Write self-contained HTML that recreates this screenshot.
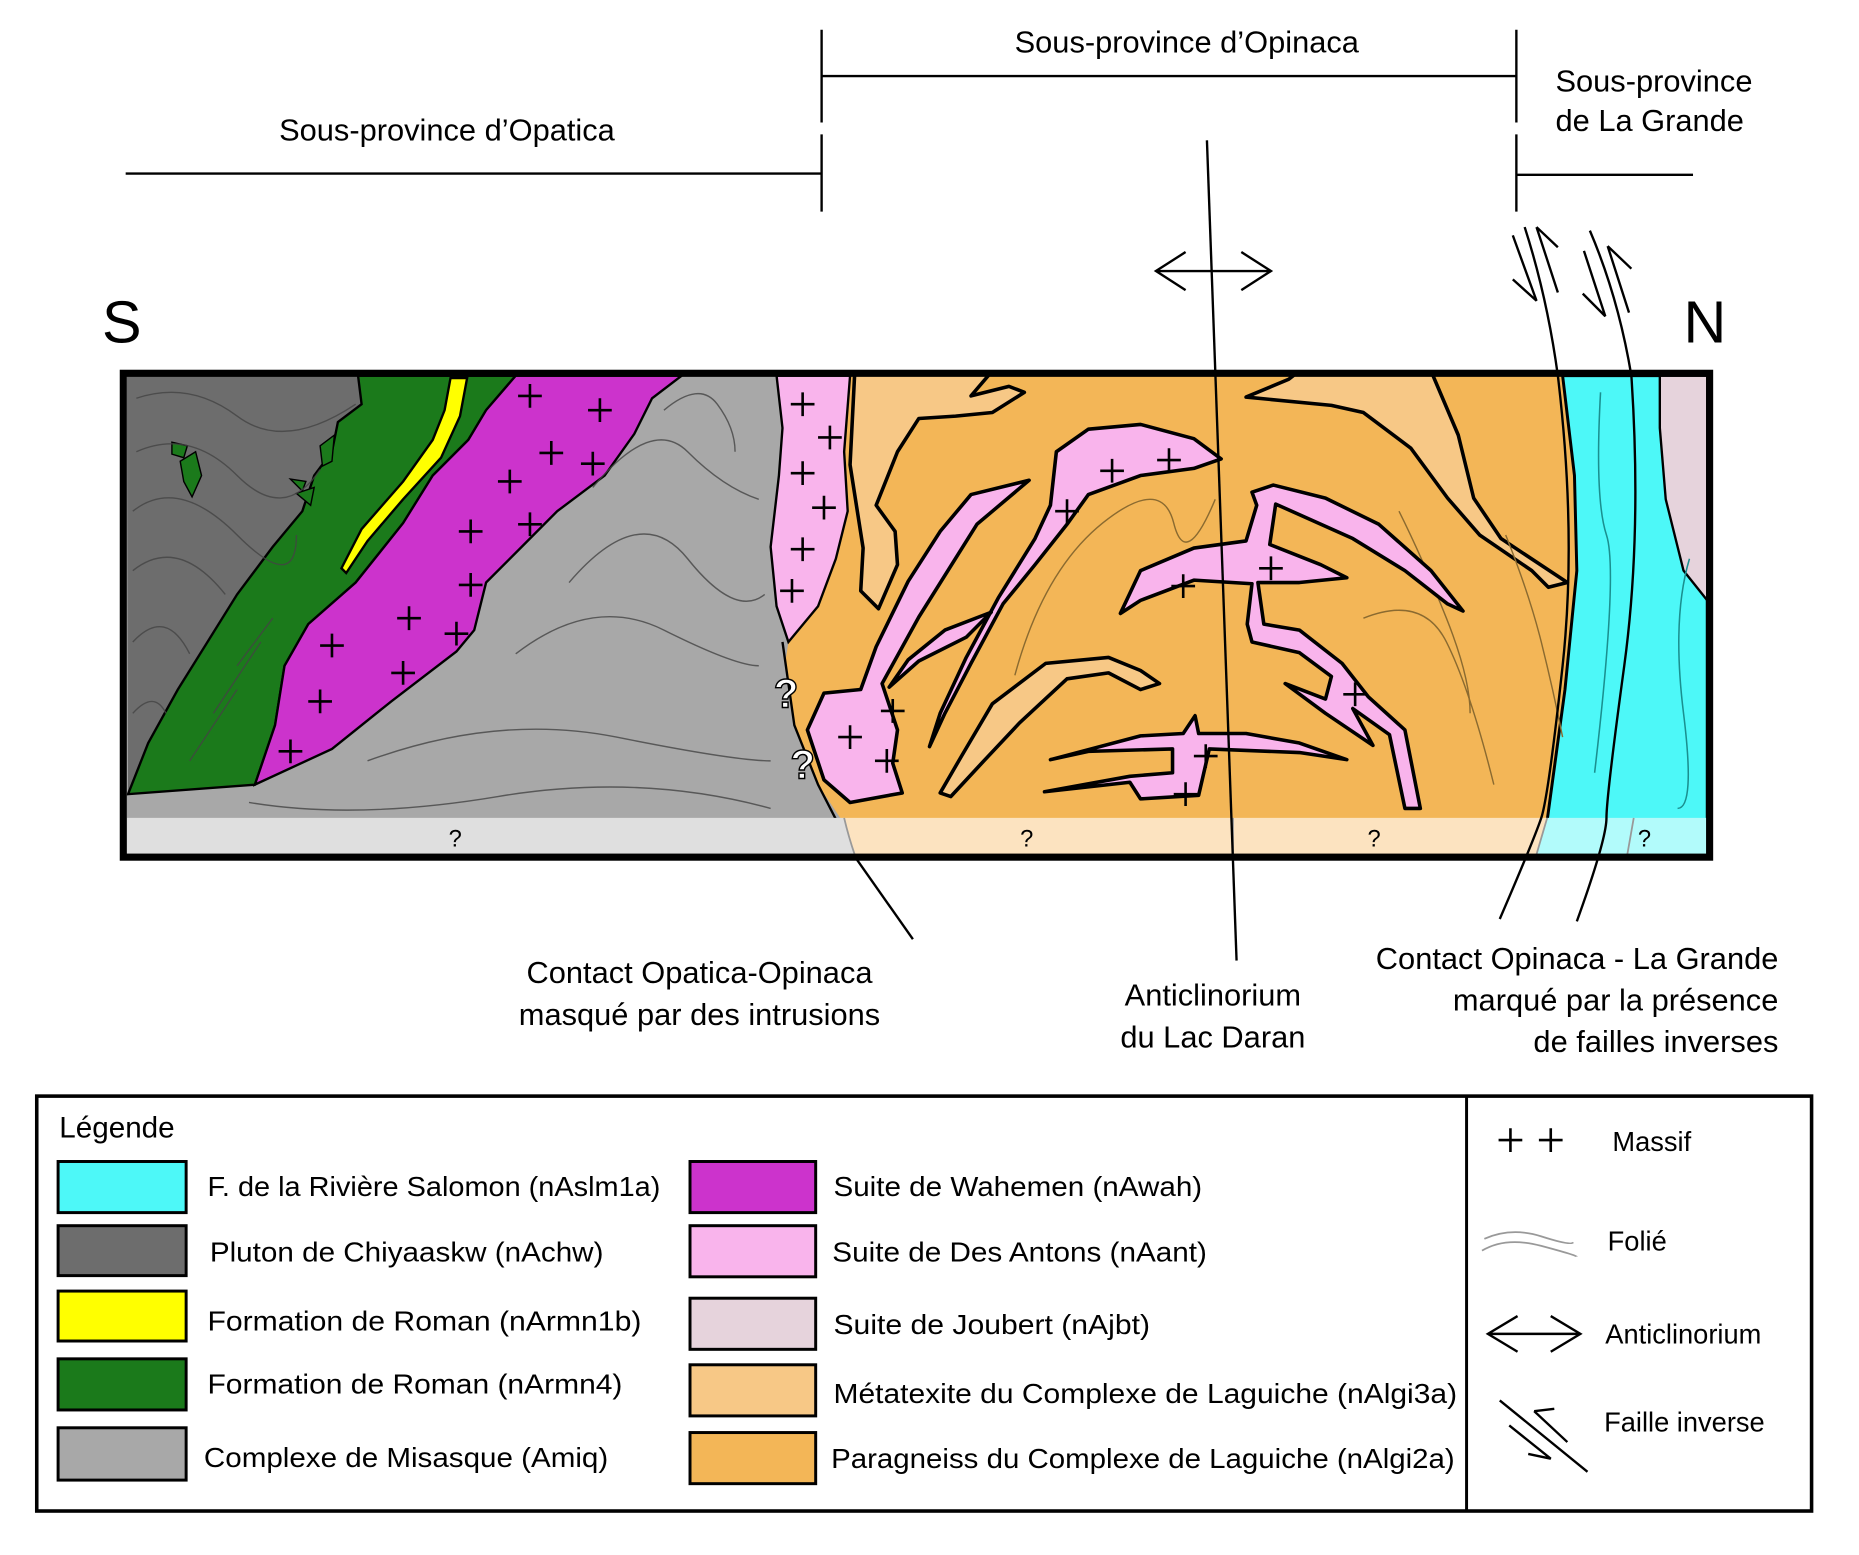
<!DOCTYPE html>
<html><head><meta charset="utf-8"><style>html,body{margin:0;padding:0;background:#fff}svg{display:block}</style></head>
<body>
<svg width="1859" height="1555" viewBox="0 0 1568 1308" preserveAspectRatio="none" xmlns="http://www.w3.org/2000/svg" font-family="Liberation Sans, sans-serif">
<defs>
<g id="p"><path d="M-10 0H10M0 -10V10" stroke="#000" stroke-width="2.2"/></g>
<clipPath id="box"><rect x="107" y="316" width="1333" height="403"/></clipPath>
</defs>
<!-- top brackets -->
<g stroke="#000" stroke-width="2" fill="none">
<path d="M693 25V103M693 113V178M1279 25V103M1279 113V178M693 64H1279M106 146H693M1279 147H1428"/>
<path d="M975 228H1072M1000 212L975 228L1000 244M1047 212L1072 228L1047 244"/>
<path d="M1286 191Q1305 250 1314 316M1341 194Q1365 250 1376 316"/>
<path d="M1276 198L1296 253L1276 235M1296 191L1314 246M1296 191L1314 208"/>
<path d="M1336 211L1354 266L1335 247M1356 207L1374 263M1356 207L1376 226"/>
</g>
<g font-size="26" fill="#000">
<text x="1001" y="44" text-anchor="middle">Sous-province d’Opinaca</text>
<text x="377" y="118" text-anchor="middle">Sous-province d’Opatica</text>
<text x="1312" y="77">Sous-province</text>
<text x="1312" y="110">de La Grande</text>
</g>
<text x="86" y="288" font-size="50">S</text>
<text x="1420" y="288" font-size="50">N</text>
<!-- map -->
<g clip-path="url(#box)">
<rect x="107" y="316" width="1333" height="403" fill="#a8a8a8"/>
<path d="M717 316H1318L1328 400L1330 480L1320 580L1305 690H710L690 660L670 610L662 560L665 540L690 510L705 470L715 430L712 380Z" fill="#f3b657"/>
<path d="M1318 316H1440V690H1305L1320 580L1330 480L1328 400Z" fill="#4df8f8" stroke="#000" stroke-width="2.5"/>
<path d="M1400 316H1440V505L1420 480L1405 420L1400 360Z" fill="#e6d3dc" stroke="#000" stroke-width="2"/>
<path d="M107 316H302L305 340L285 355L280 380L265 400L255 430L230 460L200 500L175 540L150 580L125 625L108 668Z" fill="#6d6d6d"/>
<path d="M302 316H435L410 345L395 370L365 400L340 440L300 490L260 525L240 560L232 610L215 660L108 668L125 625L150 580L175 540L200 500L230 460L255 430L265 400L280 380L285 355L305 340Z" fill="#1b7a1b" stroke="#000" stroke-width="2"/>
<path d="M380 318H394L388 350L372 385L340 420L310 455L292 482L288 478L305 445L340 405L365 370L375 345Z" fill="#ffff00" stroke="#000" stroke-width="2"/>
<path d="M435 316H575L550 335L535 365L510 400L470 430L440 460L410 490L400 530L385 548L330 590L280 630L215 660L232 610L240 560L260 525L300 490L340 440L365 400L395 370L410 345Z" fill="#cc33cc" stroke="#000" stroke-width="2"/>
<path d="M655 316H717L712 380L715 430L705 470L690 510L665 540L655 510L650 460L657 400L660 360Z" fill="#f9b4ec" stroke="#000" stroke-width="2"/>
<path d="M660 540L670 610L690 660L722 722" stroke="#000" stroke-width="2" fill="none"/>
<g fill="#1b7a1b" stroke="#000" stroke-width="1.2">
<path d="M145 372L158 375L155 385L145 382Z"/><path d="M152 388L165 380L170 400L162 418L155 405Z"/>
<path d="M270 375L282 366L280 388L272 392Z"/><path d="M245 403L258 405L255 413Z"/><path d="M250 415L265 410L262 425Z"/>
</g>
<g fill="#f7c886" stroke="#000" stroke-width="3" stroke-linejoin="round">
<path d="M721 312L717 391L728 461L726 497L741 512L757 475L755 447L739 425L757 380L775 352L806 350L837 347L864 330L851 325L819 333L837 312Z"/>
<path d="M1051 334L1087 319L1096 312H1207L1230 366L1243 419L1266 453L1322 490L1306 494L1292 480L1248 450L1221 419L1190 377L1150 347L1123 341Z"/>
<path d="M793 667L811 636L837 592L882 558L935 553L962 564L978 575L962 580L935 566L900 571L860 608L828 642L802 670Z"/>
</g>
<g fill="none" stroke="#444" stroke-width="1.2" opacity="0.8">
<path d="M115 335Q160 320 200 350T300 340M115 380Q160 360 200 400T270 395M112 430Q150 400 200 450T250 450M112 480Q150 450 190 500M112 540Q140 510 160 550M112 600Q130 580 140 600"/>
<path d="M560 345Q590 320 605 340T620 380M500 410Q550 350 580 380T640 420M480 490Q540 420 580 470T645 500M435 550Q500 500 560 530T640 560M310 640Q420 600 520 620T650 640M210 675Q300 690 420 670T650 680"/>
<path d="M200 560L230 520M180 600L220 540M160 640L200 580"/>
</g>
<g fill="none" stroke="#8a6a30" stroke-width="1.2">
<path d="M856 568Q880 480 930 440T990 440T1025 420"/><path d="M1180 430Q1200 470 1220 520T1240 600"/><path d="M1150 520Q1200 500 1220 540T1260 660"/><path d="M1270 450Q1290 500 1300 540T1318 620"/>
</g>
<path d="M1350 330Q1345 420 1355 450T1345 650M1425 470Q1410 520 1420 600T1415 680" stroke="#1a8f8f" stroke-width="1.3" fill="none"/>
<g fill="#f9b4ec" stroke="#000" stroke-width="3" stroke-linejoin="round">
<path d="M891 380L918 361L962 357L1007 369L1030 386L1007 394L962 400L918 416L900 441L873 475L846 508L819 558L797 600L784 628L793 600L815 553L842 503L873 453L886 425Z"/>
<path d="M868 404L819 416L793 447L766 489L739 544L726 580L695 583L681 614L695 656L717 675L761 667L753 642L757 614L744 575L775 519L824 441Z"/>
<path d="M836 515L797 530L766 555L750 578L775 556L815 536Z"/>
<path d="M945 516L962 480L1007 461L1051 455L1060 425L1056 414L1074 408L1118 419L1163 441L1207 480L1234 514L1221 508L1185 480L1141 453L1076 424L1071 458L1114 475L1136 486L1096 490L1061 490L1066 525L1096 530L1132 558L1154 586L1185 614L1198 680L1185 680L1172 618L1141 596L1158 627L1118 600L1084 575L1118 588L1123 569L1096 549L1056 540L1052 525L1056 491L1007 488L962 505Z"/>
<path d="M886 639L962 619L998 617L1008 602L1011 617L1051 617L1096 625L1136 639L1096 633L1020 630L1011 669L962 672L953 658L881 666L953 653L989 650L989 630L918 632Z"/>
</g>
<path d="M107 688H712L722 722H107Z" fill="#dfdfdf"/>
<path d="M712 688H1305L1295 722H722Z" fill="#fce3c0"/>
<path d="M1305 688H1440V722H1295Z" fill="#b2fbfb"/>
<path d="M712 688Q716 705 722 722M1040 688V722M1305 688L1295 722M1378 688L1372 722" stroke="#999" stroke-width="1.5" fill="none"/>
<g font-size="20" text-anchor="middle" fill="#000"><text x="384" y="712">?</text><text x="866" y="712">?</text><text x="1159" y="712">?</text><text x="1387" y="712">?</text></g>
<g>
<use href="#p" x="447" y="333"/><use href="#p" x="506" y="345"/><use href="#p" x="465" y="381"/><use href="#p" x="500" y="390"/><use href="#p" x="430" y="405"/><use href="#p" x="397" y="447"/><use href="#p" x="447" y="441"/><use href="#p" x="397" y="492"/><use href="#p" x="345" y="520"/><use href="#p" x="385" y="533"/><use href="#p" x="280" y="543"/><use href="#p" x="340" y="566"/><use href="#p" x="270" y="590"/><use href="#p" x="245" y="632"/>
<use href="#p" x="677" y="340"/><use href="#p" x="700" y="368"/><use href="#p" x="677" y="398"/><use href="#p" x="695" y="427"/><use href="#p" x="677" y="462"/><use href="#p" x="668" y="497"/>
<use href="#p" x="938" y="396"/><use href="#p" x="986" y="387"/><use href="#p" x="900" y="430"/><use href="#p" x="998" y="493"/><use href="#p" x="1072" y="478"/><use href="#p" x="753" y="598"/><use href="#p" x="717" y="620"/><use href="#p" x="748" y="640"/><use href="#p" x="1143" y="584"/><use href="#p" x="1017" y="636"/><use href="#p" x="1000" y="668"/>
</g>
<g font-size="34" font-weight="bold" fill="#fff" stroke="#000" stroke-width="1.2" text-anchor="middle"><text x="663" y="595">?</text><text x="677" y="655">?</text></g>
</g>
<rect x="104" y="314" width="1338" height="407" fill="none" stroke="#000" stroke-width="6"/>
<path d="M1018 118L1043 808" stroke="#000" stroke-width="2"/>
<path d="M722 722L770 790" stroke="#000" stroke-width="2"/>
<g stroke="#000" stroke-width="2" fill="none">
<path d="M1314 316Q1330 450 1318 560T1300 688T1265 773"/>
<path d="M1376 316Q1385 450 1370 560T1355 688T1330 775"/>
</g>
<g font-size="26" fill="#000">
<text x="590" y="827" text-anchor="middle">Contact Opatica-Opinaca</text>
<text x="590" y="862" text-anchor="middle">masqué par des intrusions</text>
<text x="1023" y="846" text-anchor="middle">Anticlinorium</text>
<text x="1023" y="881" text-anchor="middle">du Lac Daran</text>
<text x="1500" y="815" text-anchor="end">Contact Opinaca - La Grande</text>
<text x="1500" y="850" text-anchor="end">marqué par la présence</text>
<text x="1500" y="885" text-anchor="end">de failles inverses</text>
</g>
<rect x="31" y="922" width="1497" height="349" fill="none" stroke="#000" stroke-width="3"/>
<path d="M1237 922V1271" stroke="#000" stroke-width="2.5"/>
<g stroke="#000" stroke-width="2.5">
<rect x="49" y="977" width="108" height="43" fill="#4df8f8"/>
<rect x="49" y="1031" width="108" height="42" fill="#6d6d6d"/>
<rect x="49" y="1086" width="108" height="42" fill="#ffff00"/>
<rect x="49" y="1143" width="108" height="43" fill="#1b7a1b"/>
<rect x="49" y="1201" width="108" height="44" fill="#a8a8a8"/>
<rect x="582" y="977" width="106" height="43" fill="#cc33cc"/>
<rect x="582" y="1031" width="106" height="43" fill="#f9b4ec"/>
<rect x="582" y="1092" width="106" height="43" fill="#e6d3dc"/>
<rect x="582" y="1148" width="106" height="43" fill="#f7c886"/>
<rect x="582" y="1205" width="106" height="43" fill="#f3b657"/>
</g>
<g font-size="23" fill="#000">
<text x="50" y="957" font-size="25">Légende</text>
<text x="175" y="1006" textLength="382" lengthAdjust="spacingAndGlyphs">F. de la Rivière Salomon (nAslm1a)</text>
<text x="177" y="1061" textLength="332" lengthAdjust="spacingAndGlyphs">Pluton de Chiyaaskw (nAchw)</text>
<text x="175" y="1119" textLength="366" lengthAdjust="spacingAndGlyphs">Formation de Roman (nArmn1b)</text>
<text x="175" y="1172" textLength="350" lengthAdjust="spacingAndGlyphs">Formation de Roman (nArmn4)</text>
<text x="172" y="1234" textLength="341" lengthAdjust="spacingAndGlyphs">Complexe de Misasque (Amiq)</text>
<text x="703" y="1006" textLength="311" lengthAdjust="spacingAndGlyphs">Suite de Wahemen (nAwah)</text>
<text x="702" y="1061" textLength="316" lengthAdjust="spacingAndGlyphs">Suite de Des Antons (nAant)</text>
<text x="703" y="1122" textLength="267" lengthAdjust="spacingAndGlyphs">Suite de Joubert (nAjbt)</text>
<text x="703" y="1180" textLength="526" lengthAdjust="spacingAndGlyphs">Métatexite du Complexe de Laguiche (nAlgi3a)</text>
<text x="701" y="1235" textLength="526" lengthAdjust="spacingAndGlyphs">Paragneiss du Complexe de Laguiche (nAlgi2a)</text>
<text x="1360" y="968">Massif</text>
<text x="1356" y="1052">Folié</text>
<text x="1354" y="1130">Anticlinorium</text>
<text x="1353" y="1204">Faille inverse</text>
</g>
<use href="#p" x="1274" y="959"/><use href="#p" x="1308" y="959"/>
<path d="M1252 1042Q1275 1032 1300 1040T1327 1045M1250 1052Q1270 1040 1300 1048T1330 1057" stroke="#999" stroke-width="1.5" fill="none"/>
<path d="M1255 1122H1333M1280 1107L1255 1122L1280 1137M1308 1107L1333 1122L1308 1137" stroke="#000" stroke-width="2" fill="none"/>
<path d="M1265 1178L1339 1238M1273 1199L1308 1227L1289 1223M1294 1187L1322 1213M1294 1187L1311 1185" stroke="#000" stroke-width="2" fill="none"/>
</svg>
</body></html>
